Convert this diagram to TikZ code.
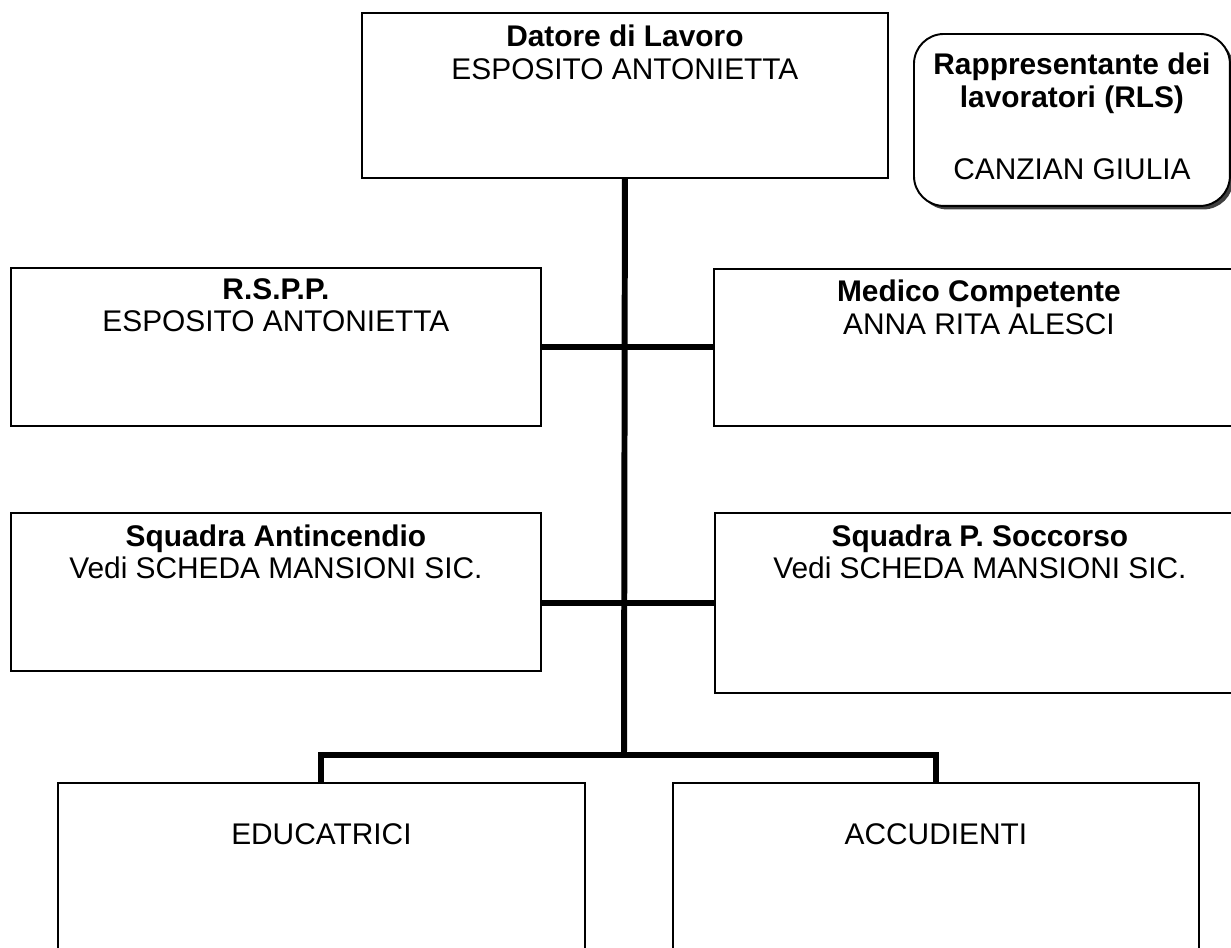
\documentclass[tikz,border=0pt]{standalone}
\usepackage{fontspec}
\setmainfont{Liberation Sans}
\usetikzlibrary{positioning,shadows}

\tikzset{
  unit/.style={draw, line width=1.1pt, fill=white, anchor=north west, inner sep=0pt},
  txt/.style={align=center, inner sep=0pt, font=\fontsize{17pt}{18.6pt}\selectfont},
  conn/.style={line width=3.4pt},
}

\begin{document}
\begin{tikzpicture}[x=0.02cm, y=-0.02cm]
    \useasboundingbox (0,0) rectangle (1231,947);
    \clip (0,0) rectangle (1231,947);
    % organigramma sicurezza
    \node[unit, minimum width=10.52cm, minimum height=3.3cm] (datore) at (361,12) {};
    \node[unit, rounded corners=0.6cm, minimum width=6.32cm, minimum height=3.44cm,
          drop shadow={shadow xshift=0.07cm, shadow yshift=-0.07cm, fill=black!75, opacity=1}] (rls) at (913,33) {};
    \node[unit, minimum width=10.6cm, minimum height=3.16cm] (rspp) at (10,267) {};
    \node[unit, minimum width=10.6cm, minimum height=3.14cm] (medico) at (713,268) {};
    \node[unit, minimum width=10.6cm, minimum height=3.16cm] (antinc) at (10,512) {};
    \node[unit, minimum width=10.6cm, minimum height=3.6cm] (soccorso) at (714,512) {};
    \node[unit, minimum width=10.54cm, minimum height=3.6cm] (educ) at (57,782) {};
    \node[unit, minimum width=10.52cm, minimum height=3.6cm] (accud) at (672,782) {};

    \node[txt, below=0.26cm of datore.north] (datore-t) {\textbf{Datore di Lavoro}\\ESPOSITO ANTONIETTA};
    \node[txt, below=0.4cm of rls.north] (rls-t) {\textbf{Rappresentante dei}\\\textbf{lavoratori (RLS)}\\[0.78cm]CANZIAN GIULIA};
    \node[txt, below=0.22cm of rspp.north] (rspp-t) {\textbf{R.S.P.P.}\\ESPOSITO ANTONIETTA};
    \node[txt, below=0.24cm of medico.north] (medico-t) {\textbf{Medico Competente}\\ANNA RITA ALESCI};
    \node[txt, below=0.24cm of antinc.north] (antinc-t) {\textbf{Squadra Antincendio}\\Vedi SCHEDA MANSIONI SIC.};
    \node[txt, below=0.24cm of soccorso.north] (soccorso-t) {\textbf{Squadra P. Soccorso}\\Vedi SCHEDA MANSIONI SIC.};
    \node[txt, below=0.82cm of educ.north] (educ-t) {EDUCATRICI};
    \node[txt, below=0.82cm of accud.north] (accud-t) {ACCUDIENTI};

    % linee di collegamento
    \coordinate (split) at (624,755);
    \draw[conn] (datore.south) -- (split);
    \draw[conn] (rspp.east) -- (rspp.east -| medico.west);
    \draw[conn] (antinc.east |- soccorso.west) -- (soccorso.west);
    \draw[conn] (educ.north) |- (split) -| (accud.north);
\end{tikzpicture}
\end{document}
